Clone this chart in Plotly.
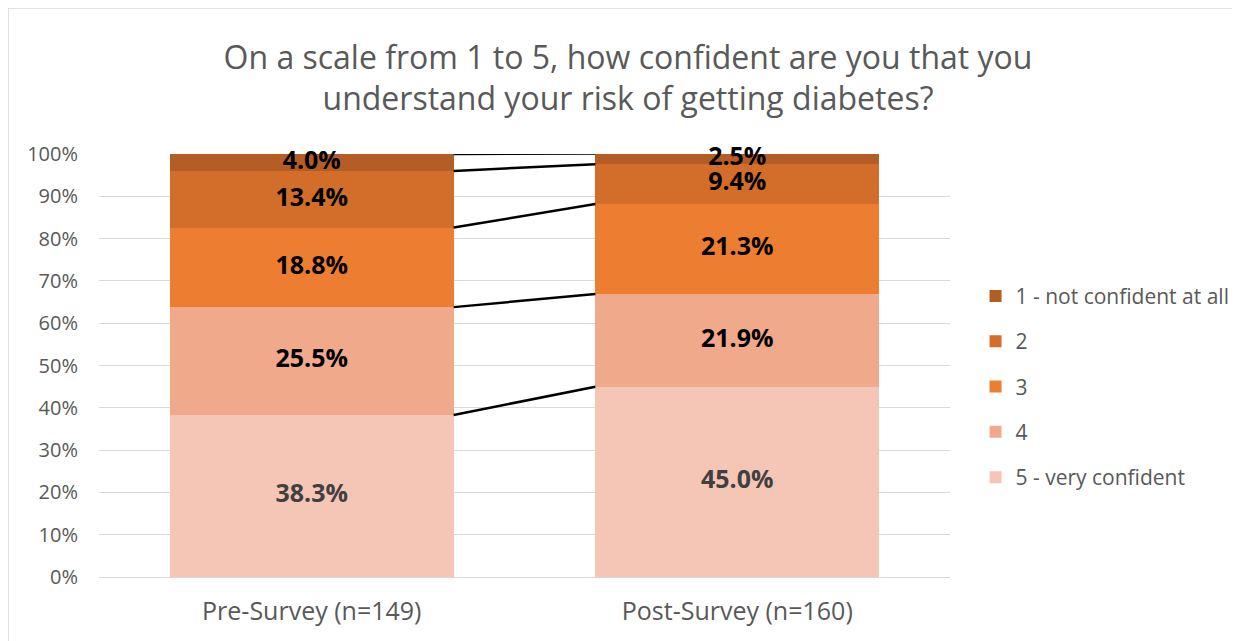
import plotly.graph_objects as go

# survey groups and response levels
groups = ["Pre-Survey (n=149)", "Post-Survey (n=160)"]
levels = ["5 - very confident", "4", "3", "2", "1 - not confident at all"]
colors = ["#F5C6B5", "#F1A98B", "#ED7D31", "#D26E2A", "#B45E25"]
label_colors = ["#404040", "#000000", "#000000", "#000000", "#000000"]

# percent of respondents, bottom to top (5 -> 1)
pre = [38.3, 25.5, 18.8, 13.4, 4.0]
post = [45.0, 21.9, 21.3, 9.4, 2.5]

xpos = [0, 1]
bar_w = 0.667
font = "Open Sans"

# page has an 8px body margin, so margins are shifted by that
L, T, W, H = 91, 146, 851, 423

fig = go.Figure()

for i, lvl in enumerate(levels):
    fig.add_trace(go.Bar(
        x=xpos, y=[pre[i], post[i]], name=lvl, width=bar_w,
        marker=dict(color=colors[i], line=dict(width=0)),
        legendgroup=lvl, legendrank=len(levels) - i, hoverinfo="skip",
    ))

# data labels and series lines
cum_pre, cum_post = 0, 0
for i, lvl in enumerate(levels):
    mid_pre = cum_pre + pre[i] / 2
    mid_post = cum_post + post[i] / 2
    cum_pre += pre[i]
    cum_post += post[i]
    fig.add_trace(go.Scatter(
        x=xpos, y=[mid_pre, mid_post], mode="text",
        text=[f"{pre[i]:.1f}%", f"{post[i]:.1f}%"],
        textfont=dict(family=font, size=25, color=label_colors[i], weight="bold"),
        showlegend=False, hoverinfo="skip", cliponaxis=False,
    ))
    fig.add_trace(go.Scatter(
        x=[bar_w / 2, 1 - bar_w / 2], y=[cum_pre, cum_post], mode="lines",
        line=dict(color="black", width=2.5),
        showlegend=False, hoverinfo="skip",
    ))

fig.update_layout(
    barmode="stack",
    width=1240, height=641,
    margin=dict(l=L, r=1240 - L - W, t=T, b=641 - T - H),
    paper_bgcolor="white", plot_bgcolor="white",
    font=dict(family=font, color="#595959"),
    title=dict(
        text="On a scale from 1 to 5, how confident are you that you<br>understand your risk of getting diabetes?",
        x=0.5, xanchor="center", y=0.905, yanchor="middle",
        font=dict(family=font, size=32, color="#595959"),
    ),
    legend=dict(
        x=1.03, xanchor="left", y=0.712, yanchor="top",
        traceorder="grouped", tracegroupgap=15,
        font=dict(size=21, color="#595959"),
        itemwidth=30,
    ),
    xaxis=dict(
        tickvals=xpos, ticktext=groups, range=[-0.5, 1.5],
        showgrid=False, zeroline=False, showline=False,
        tickfont=dict(size=25, color="#595959"), ticklabelstandoff=17,
    ),
    yaxis=dict(
        range=[0, 100], dtick=10, ticksuffix="%",
        showgrid=True, gridcolor="#D9D9D9", gridwidth=1,
        zeroline=True, zerolinecolor="#D9D9D9", zerolinewidth=1,
        tickfont=dict(size=20, color="#595959"), ticklabelstandoff=20,
    ),
    shapes=[
        dict(type="line", xref="paper", yref="paper",
             x0=(0 - L) / W, x1=(0 - L) / W, y0=(T + H) / H, y1=(T + H - 700) / H,
             line=dict(color="#D9D9D9", width=1.5)),
        dict(type="line", xref="paper", yref="paper",
             x0=(0 - L) / W, x1=(1300 - L) / W, y0=(T + H) / H, y1=(T + H) / H,
             line=dict(color="#D9D9D9", width=1.5)),
    ],
)

fig.write_html("out.html")
